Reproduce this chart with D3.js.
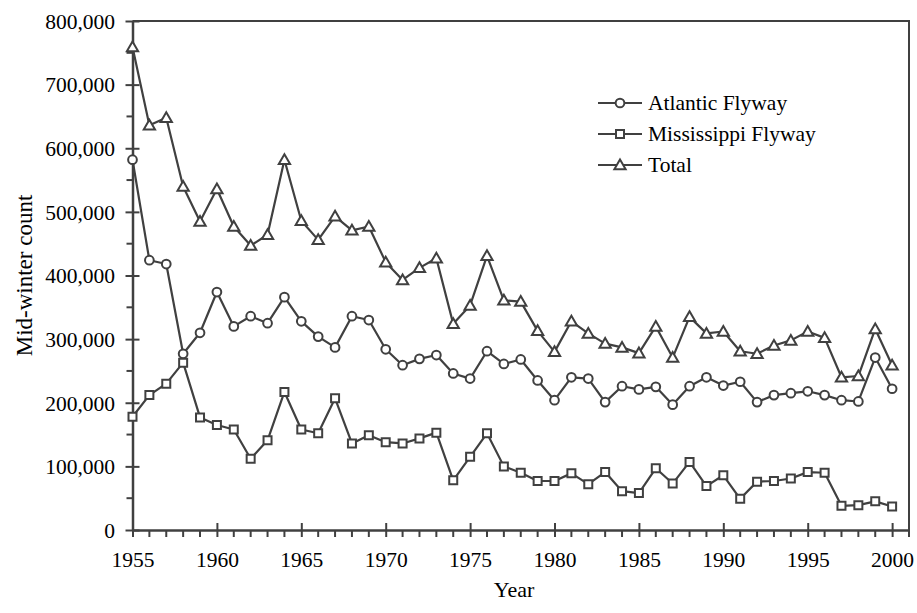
<!DOCTYPE html>
<html>
<head>
<meta charset="utf-8">
<script src="https://cdn.jsdelivr.net/npm/d3@7"></script>
<style>
  html, body { margin: 0; padding: 0; background: #fff; }
  svg text { font-family: 'Liberation Serif', 'Times New Roman', Times, 'DejaVu Serif', serif !important; }
</style>
</head>
<body>
<svg id="chart" width="917" height="613"></svg>
<script>
const years = [1955,1956,1957,1958,1959,1960,1961,1962,1963,1964,
               1965,1966,1967,1968,1969,1970,1971,1972,1973,1974,
               1975,1976,1977,1978,1979,1980,1981,1982,1983,1984,
               1985,1986,1987,1988,1989,1990,1991,1992,1993,1994,
               1995,1996,1997,1998,1999,2000];
const atlantic = [582,424,418,277,310,374,320,336,325,366,
                  328,304,287,336,330,284,259,269,275,246,
                  238,281,261,268,235,204,240,238,201,226,
                  221,225,197,226,240,227,233,201,212,215,
                  218,212,204,202,271,222];
const mississippi = [178,212,230,263,177,165,158,112,141,217,
                     158,152,207,136,149,138,136,144,153,78,
                     115,152,100,90,77,77,89,72,91,61,
                     58,97,73,107,69,86,49,76,77,81,
                     91,90,38,39,45,37];
const total = [759,636,648,540,485,536,477,447,464,582,
               486,456,493,471,477,421,393,412,427,324,
               353,431,361,359,313,280,328,309,293,287,
               278,320,271,335,309,312,281,277,290,298,
               312,302,240,242,316,259];
const seriesNames = ["Atlantic Flyway", "Mississippi Flyway", "Total"];
const xTickLabels = [1955,1960,1965,1970,1975,1980,1985,1990,1995,2000];
const yTickLabels = [0,100000,200000,300000,400000,500000,600000,700000,800000];
const xTitle = "Year";
const yTitle = "Mid-winter count";

const FONT = "'Liberation Serif', 'Times New Roman', Times, 'DejaVu Serif', serif";
const color = "#404040";
const svg = d3.select("#chart");
const x = d3.scaleLinear().domain([1955, 2001]).range([132.5, 909]);
const y = d3.scaleLinear().domain([0, 800000]).range([530, 21]);

// frame (top and right)
svg.append("path")
  .attr("d", `M${x(1955)},${y(800000)}H${x(2001)}V${y(0)}`)
  .attr("fill", "none").attr("stroke", color).attr("stroke-width", 2);

// minor ticks
const minorY = [50000,150000,250000,350000,450000,550000,650000,750000];
svg.append("g").selectAll("line").data(minorY).join("line")
  .attr("x1", x(1955) - 6).attr("x2", x(1955))
  .attr("y1", d => y(d)).attr("y2", d => y(d))
  .attr("stroke", color).attr("stroke-width", 2);
const minorX = years.concat([2001]).filter(v => v % 5 !== 0);
svg.append("g").selectAll("line").data(minorX).join("line")
  .attr("x1", d => x(d)).attr("x2", d => x(d))
  .attr("y1", y(0)).attr("y2", y(0) + 7)
  .attr("stroke", color).attr("stroke-width", 2);

// y axis
const yAxis = d3.axisLeft(y).tickValues(yTickLabels)
  .tickFormat(d3.format(",")).tickSizeInner(7).tickSizeOuter(0).tickPadding(10);
const gy = svg.append("g").attr("transform", `translate(${x(1955)},0)`).call(yAxis);
gy.attr("font-family", null).attr("font-size", null);
gy.select(".domain").attr("stroke", color).attr("stroke-width", 2.5);
gy.selectAll(".tick line").attr("stroke", color).attr("stroke-width", 2).attr("x2", 7).attr("x1", -7);
gy.selectAll(".tick text").attr("fill", "#000").style("font-size", "21.5px")
  .style("font-family", FONT).attr("x", -17.5).attr("dy", "0.34em");

// x axis
const xAxis = d3.axisBottom(x).tickValues(xTickLabels)
  .tickFormat(d3.format("d")).tickSizeInner(7).tickSizeOuter(0).tickPadding(14);
const gx = svg.append("g").attr("transform", `translate(0,${y(0)})`).call(xAxis);
gx.attr("font-family", null).attr("font-size", null);
gx.select(".domain").attr("stroke", color).attr("stroke-width", 2.5);
gx.selectAll(".tick line").attr("stroke", color).attr("stroke-width", 2).attr("y1", -7).attr("y2", 7);
gx.selectAll(".tick text").attr("fill", "#000").style("font-size", "21.5px")
  .style("font-family", FONT).attr("y", 37).attr("dy", 0);

// titles
svg.append("text").attr("x", 514).attr("y", 597).attr("text-anchor", "middle")
  .style("font-size", "22px").style("font-family", FONT).text(xTitle);
svg.append("text").attr("transform", `translate(32,${(y(0)+y(800000))/2}) rotate(-90)`)
  .attr("text-anchor", "middle").style("font-size", "23px").style("font-family", FONT).text(yTitle);

// series
const series = [
  {name: seriesNames[0], values: atlantic, marker: "circle"},
  {name: seriesNames[1], values: mississippi, marker: "square"},
  {name: seriesNames[2], values: total, marker: "triangle"}
];
const line = d3.line().x((d, i) => x(years[i])).y(d => y(d * 1000));
const markerPath = {
  circle: d3.symbol(d3.symbolCircle, 60),
  square: d3.symbol(d3.symbolSquare, 64),
  triangle: d3.symbol(d3.symbolTriangle, 55)
};

function drawMarker(g, type, cx, cy) {
  g.append("path").attr("d", markerPath[type]())
    .attr("transform", `translate(${cx},${cy + (type === "triangle" ? 1 : 0)})`)
    .attr("fill", "#fff").attr("stroke", color).attr("stroke-width", 2);
}

series.forEach(s => {
  svg.append("path").datum(s.values).attr("d", line)
    .attr("fill", "none").attr("stroke", color).attr("stroke-width", 2.2)
    .attr("stroke-linejoin", "round");
  const g = svg.append("g");
  s.values.forEach((v, i) => drawMarker(g, s.marker, x(years[i]), y(v * 1000)));
});

// legend
const legY = [103, 134, 165];
series.forEach((s, i) => {
  const g = svg.append("g");
  g.append("line").attr("x1", 598).attr("x2", 642).attr("y1", legY[i]).attr("y2", legY[i])
    .attr("stroke", color).attr("stroke-width", 2.2);
  drawMarker(g, s.marker, 620, legY[i]);
  g.append("text").attr("x", 648).attr("y", legY[i]).attr("dy", "0.34em")
    .style("font-size", "21.5px").style("font-family", FONT).text(s.name);
});
</script>
</body>
</html>
